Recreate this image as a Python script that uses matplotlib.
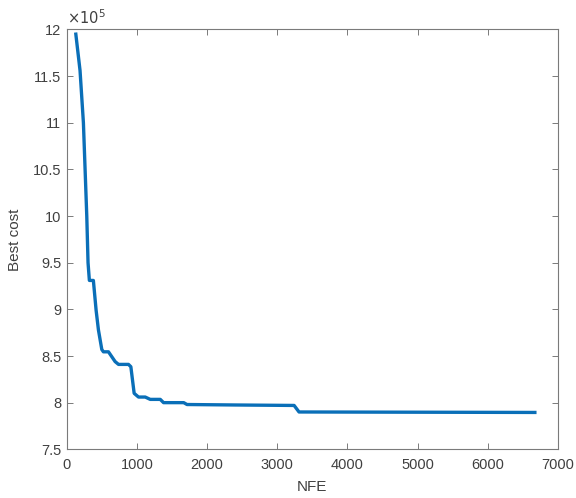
import matplotlib
matplotlib.use("Agg")
import matplotlib.pyplot as plt
from matplotlib.ticker import FixedLocator

plt.rcParams['font.family'] = ['Liberation Sans', 'DejaVu Sans']

# Convergence data (NFE vs best cost, in units of 1e5)
nfe = [130, 190, 238, 262, 286, 304, 323, 380, 419, 452, 500, 523, 595, 690,
       738, 880, 914, 961, 1023, 1119, 1190, 1333, 1380, 1667, 1714, 2400,
       3240, 3310, 6670]
best_cost = [11.95, 11.56, 11.0, 10.5, 10.0, 9.5, 9.31, 9.31, 8.99, 8.78, 8.57,
             8.545, 8.545, 8.44, 8.41, 8.41, 8.385, 8.10, 8.06, 8.06, 8.035,
             8.035, 8.0, 8.0, 7.98, 7.975, 7.97, 7.90, 7.895]

xticks = [0, 1000, 2000, 3000, 4000, 5000, 6000, 7000]
yticks = [7.5, 8, 8.5, 9, 9.5, 10, 10.5, 11, 11.5, 12]
ytick_labels = ['7.5', '8', '8.5', '9', '9.5', '10', '10.5', '11', '11.5', '12']

fig = plt.figure(figsize=(5.76, 4.98), dpi=100)
ax = fig.add_axes([0.1158, 0.0978, 0.853, 0.843])

ax.plot(nfe, best_cost, color='#0a6fb8', linewidth=2.4)

ax.set_xlim(0, 7000)
ax.set_ylim(7.5, 12)
ax.xaxis.set_major_locator(FixedLocator(xticks))
ax.set_yticks(yticks)
ax.set_yticklabels(ytick_labels)

axcol = '#7a7a7a'
txtcol = '#404040'
for s in ax.spines.values():
    s.set_color(axcol)
    s.set_linewidth(0.8)
ax.tick_params(direction='in', top=True, right=True, length=4, width=0.7,
               color=axcol, labelcolor=txtcol, labelsize=10.5)
ax.tick_params(axis='x', pad=6)
ax.tick_params(axis='y', pad=4)

ax.set_xlabel('NFE', fontsize=11, color=txtcol, labelpad=6)
ax.set_ylabel('Best cost', fontsize=11, color=txtcol, labelpad=8)

ax.text(0.0, 1.005, r'$\times10^{5}$', transform=ax.transAxes, fontsize=10.5,
        color=txtcol, ha='left', va='bottom')

fig.savefig('out.png', dpi=100)
